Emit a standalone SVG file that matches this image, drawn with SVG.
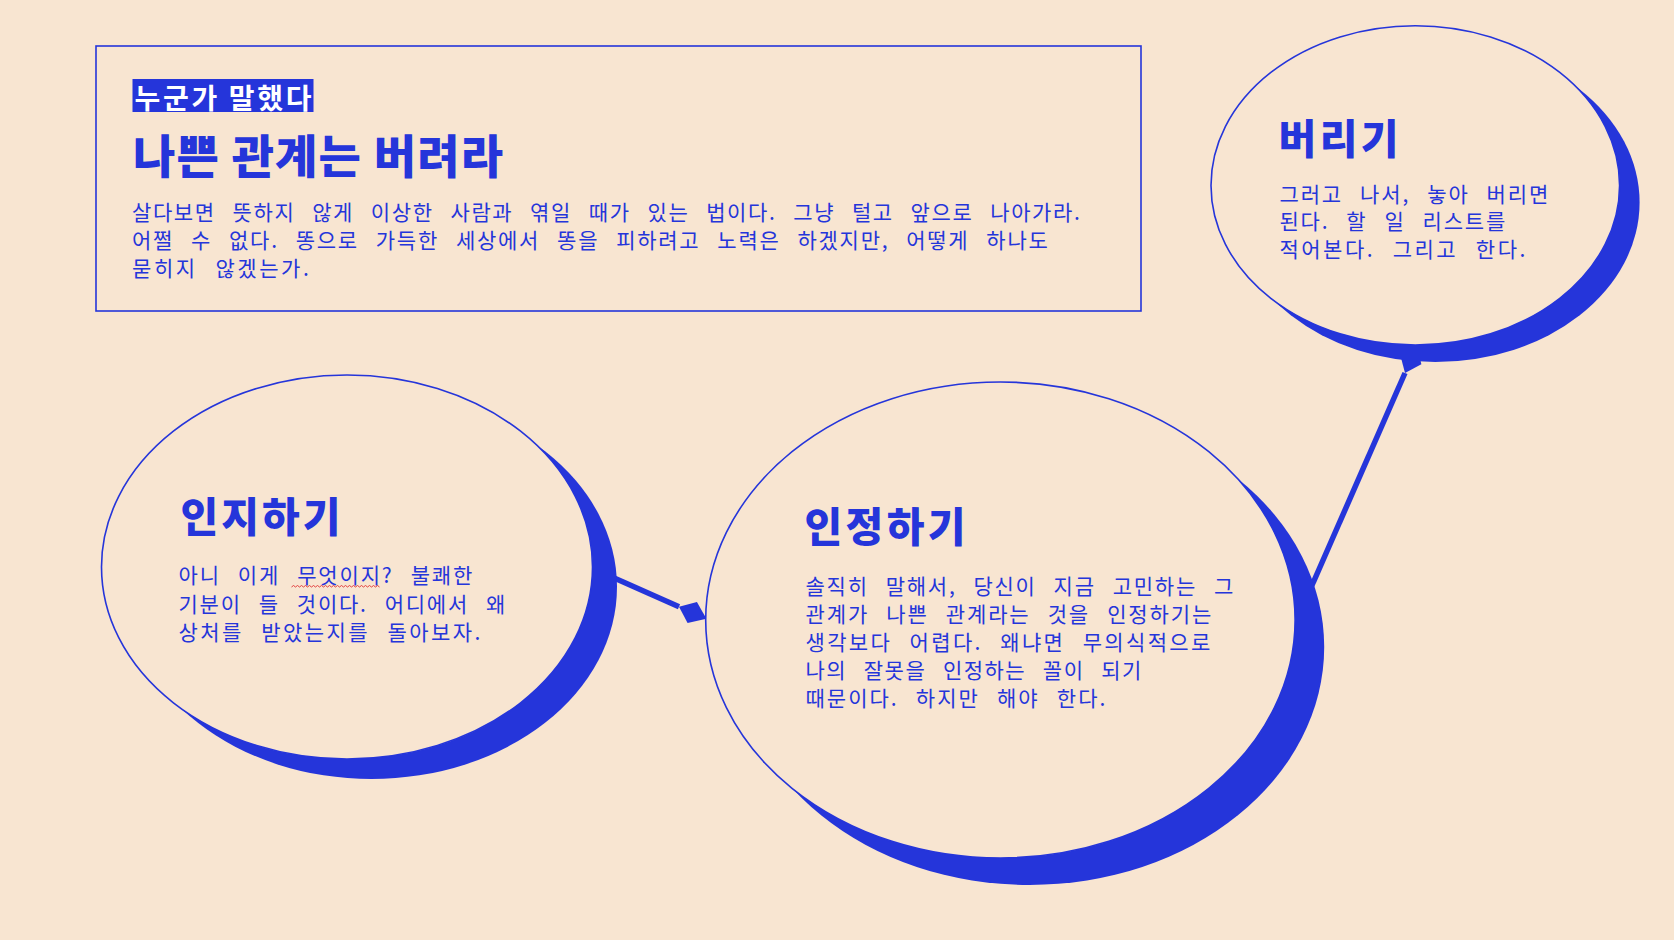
<svg xmlns="http://www.w3.org/2000/svg" width="1674" height="940" viewBox="0 0 1674 940">
  <style>
    .bg { fill: #F8E5D1; }
    .shadow { fill: #2535DA; }
    .bubble { fill: #F8E5D1; stroke: #2535DA; stroke-width: 1.6; }
    .frame { fill: none; stroke: #2535DA; stroke-width: 1.6; }
    .conn { stroke: #2535DA; stroke-width: 5.5; fill: none; }
    .title { font-family: "Noto Sans CJK KR", "Noto Sans", sans-serif; font-weight: 900; fill: #2535DA; }
    .body { font-family: "Noto Sans CJK KR", "Noto Sans", sans-serif; font-size: 21px; fill: #2535DA; letter-spacing: 0.2px; word-spacing: 10.5px; }
    .label { font-family: "Noto Sans CJK KR", "Noto Sans", sans-serif; font-weight: 700; font-size: 28px; fill: #FFFFFF; }
  </style>
  <defs>
    <marker id="diamond" markerUnits="userSpaceOnUse" markerWidth="32" markerHeight="26" viewBox="0 -13 32 26" refX="0" refY="0" orient="auto">
      <path d="M0,0 L14.5,-11.5 L30,0 L14.5,11.5 Z" fill="#2535DA"/>
    </marker>
  </defs>

  <rect class="bg" x="0" y="0" width="1674" height="940"/>

  <g id="connectors">
    <path class="conn" d="M590,567.2 L679,606.7" marker-end="url(#diamond)"/>
    <path class="conn" d="M1300.3,612 L1405,373" marker-end="url(#diamond)"/>
  </g>

  <g id="header">
    <rect class="frame" x="96" y="46" width="1045" height="265"/>
    <rect x="132.5" y="79" width="181" height="33" fill="#2535DA"/>
    <text class="label" x="134.5" y="108.5" textLength="177" lengthAdjust="spacing">누군가 말했다</text>
    <text class="title" x="133" y="173" font-size="46" textLength="370" lengthAdjust="spacing">나쁜 관계는 버려라</text>
    <text class="body" x="132" y="220" textLength="948" lengthAdjust="spacing">살다보면 뜻하지 않게 이상한 사람과 엮일 때가 있는 법이다. 그냥 털고 앞으로 나아가라.</text>
    <text class="body" x="132" y="248" textLength="916" lengthAdjust="spacing">어쩔 수 없다. 똥으로 가득한 세상에서 똥을 피하려고 노력은 하겠지만, 어떻게 하나도</text>
    <text class="body" x="132" y="276" textLength="177" lengthAdjust="spacing">묻히지 않겠는가.</text>
  </g>

  <g id="node-recognize">
    <ellipse class="shadow" cx="371.5" cy="587" rx="245.5" ry="192"/>
    <ellipse class="bubble" cx="347" cy="567" rx="245.5" ry="192"/>
    <text class="title" x="180.5" y="532" font-size="41" textLength="160" lengthAdjust="spacing">인지하기</text>
    <text class="body" x="178.5" y="583" textLength="294" lengthAdjust="spacing">아니 이게 무엇이지? 불쾌한</text>
    <path d="M291.5,587 l2,-1.5 l2,1.5 l2,-1.5 l2,1.5 l2,-1.5 l2,1.5 l2,-1.5 l2,1.5 l2,-1.5 l2,1.5 l2,-1.5 l2,1.5 l2,-1.5 l2,1.5 l2,-1.5 l2,1.5 l2,-1.5 l2,1.5 l2,-1.5 l2,1.5 l2,-1.5 l2,1.5 l2,-1.5 l2,1.5 l2,-1.5 l2,1.5 l2,-1.5 l2,1.5 l2,-1.5 l2,1.5 l2,-1.5 l2,1.5 l2,-1.5 l2,1.5 l2,-1.5 l2,1.5 l2,-1.5 l2,1.5 l2,-1.5 l2,1.5 l2,-1.5 l2,1.5 l2,-1.5 l2,1.5" fill="none" stroke="#E03030" stroke-width="0.9"/>
    <text class="body" x="178.5" y="611.5" textLength="327" lengthAdjust="spacing">기분이 들 것이다. 어디에서 왜</text>
    <text class="body" x="178.5" y="640" textLength="302" lengthAdjust="spacing">상처를 받았는지를 돌아보자.</text>
  </g>

  <g id="node-accept">
    <ellipse class="shadow" cx="1029.5" cy="647" rx="294.7" ry="238"/>
    <ellipse class="bubble" cx="1000.4" cy="620" rx="294.7" ry="238"/>
    <text class="title" x="804.5" y="542" font-size="41" textLength="161" lengthAdjust="spacing">인정하기</text>
    <text class="body" x="805.5" y="594" textLength="428" lengthAdjust="spacing">솔직히 말해서, 당신이 지금 고민하는 그</text>
    <text class="body" x="805.5" y="622" textLength="406" lengthAdjust="spacing">관계가 나쁜 관계라는 것을 인정하기는</text>
    <text class="body" x="805.5" y="650" textLength="405" lengthAdjust="spacing">생각보다 어렵다. 왜냐면 무의식적으로</text>
    <text class="body" x="805.5" y="678" textLength="336" lengthAdjust="spacing">나의 잘못을 인정하는 꼴이 되기</text>
    <text class="body" x="805.5" y="706" textLength="300" lengthAdjust="spacing">때문이다. 하지만 해야 한다.</text>
  </g>

  <g id="node-letgo">
    <ellipse class="shadow" cx="1435.3" cy="202.4" rx="204.3" ry="159.7"/>
    <ellipse class="bubble" cx="1415.3" cy="185.4" rx="204.3" ry="159.7"/>
    <text class="title" x="1278.5" y="154" font-size="41" textLength="120" lengthAdjust="spacing">버리기</text>
    <text class="body" x="1279.5" y="201.5" textLength="269" lengthAdjust="spacing">그러고 나서, 놓아 버리면</text>
    <text class="body" x="1279.5" y="229" textLength="226" lengthAdjust="spacing">된다. 할 일 리스트를</text>
    <text class="body" x="1279.5" y="257" textLength="246" lengthAdjust="spacing">적어본다. 그리고 한다.</text>
  </g>
</svg>
